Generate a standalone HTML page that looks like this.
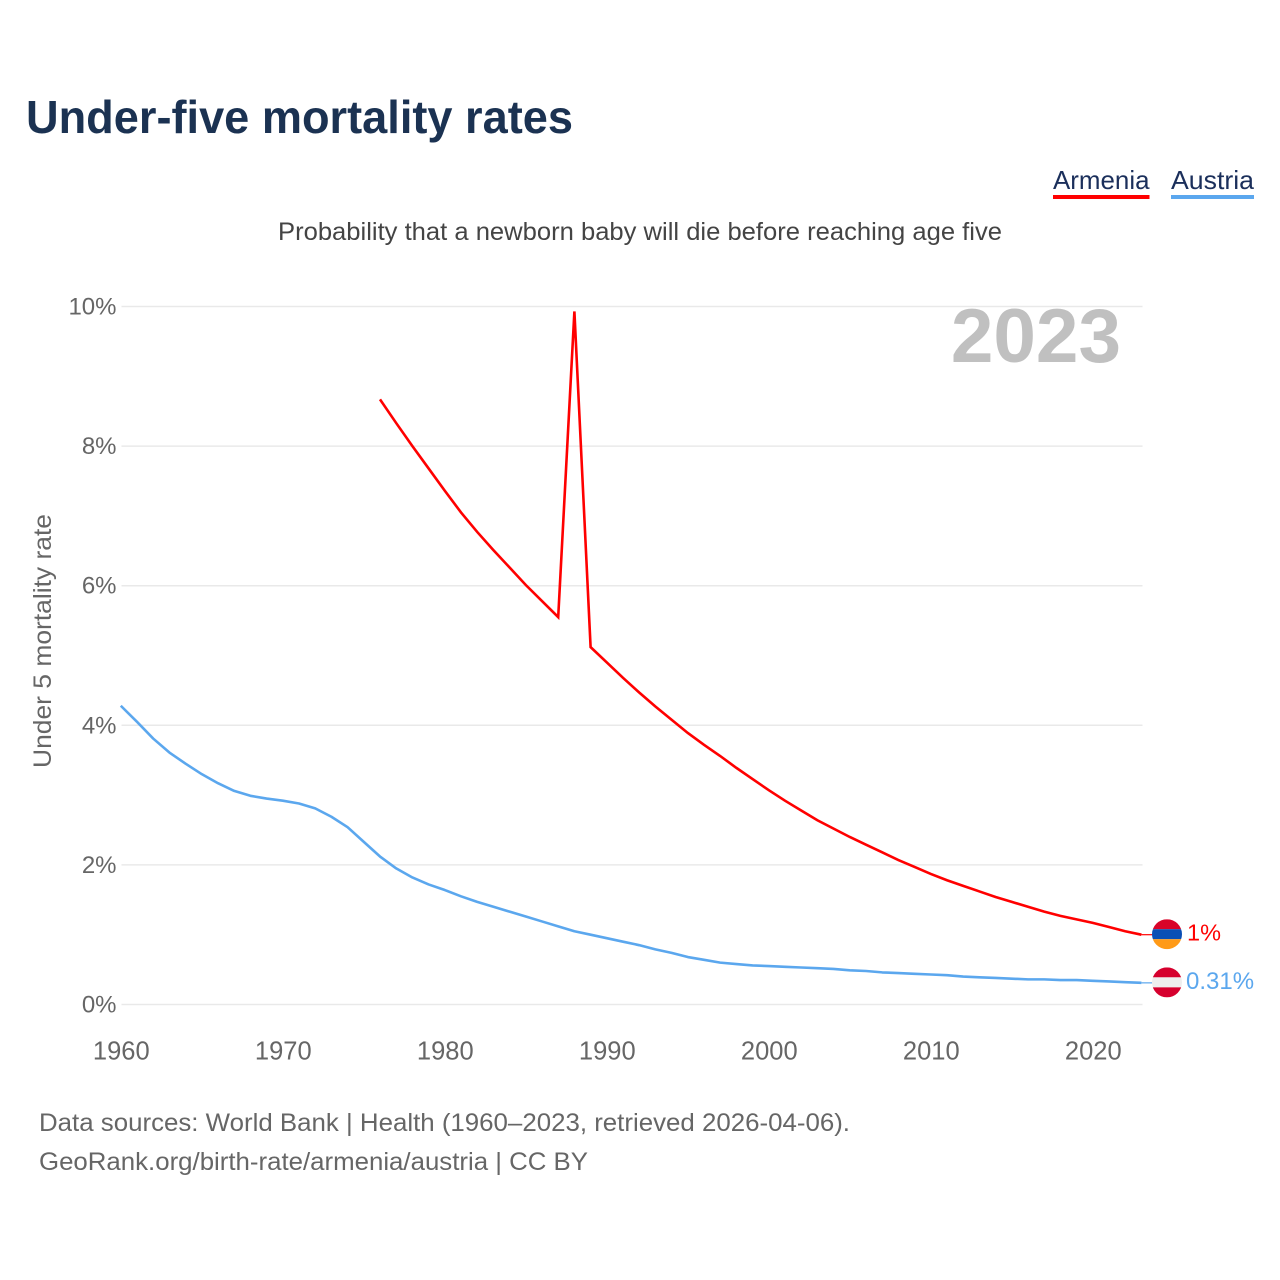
<!DOCTYPE html>
<html lang="en">
<head>
<meta charset="utf-8">
<title>Under-five mortality rates</title>
<style>
html,body{margin:0;padding:0;background:#fff;}
svg{display:block;font-family:"Liberation Sans",sans-serif;}
</style>
</head>
<body>
<svg id="chart" xmlns="http://www.w3.org/2000/svg" width="1280" height="1280" viewBox="0 0 1280 1280">
  <defs>
    <clipPath id="flag-clip"><circle cx="0" cy="0" r="15"/></clipPath>
  </defs>
  <rect width="1280" height="1280" fill="#fff"/>
  <text x="26" y="133" font-size="46" font-weight="bold" fill="#1b3252" textLength="547" lengthAdjust="spacingAndGlyphs">Under-five mortality rates</text>
  <g>
    <text x="1053" y="189" font-size="26" fill="#1b2f5b" textLength="96.5" lengthAdjust="spacingAndGlyphs">Armenia</text>
    <rect x="1053" y="195" width="96.5" height="4" fill="#ff0000"/>
  </g>
  <g>
    <text x="1171" y="189" font-size="26" fill="#1b2f5b" textLength="83" lengthAdjust="spacingAndGlyphs">Austria</text>
    <rect x="1171" y="195" width="83" height="4" fill="#5ba7ee"/>
  </g>
  <text x="278" y="240" font-size="25" fill="#444" textLength="724" lengthAdjust="spacingAndGlyphs">Probability that a newborn baby will die before reaching age five</text>
  <text transform="translate(51,768) rotate(-90)" font-size="25" fill="#666" textLength="254" lengthAdjust="spacingAndGlyphs">Under 5 mortality rate</text>
  <g id="grid"></g>
  <g id="y-ticks"></g>
  <g id="x-ticks"></g>
  <text x="1121" y="362" text-anchor="end" font-size="76.5" font-weight="bold" fill="#c0c0c0">2023</text>
  <path id="line-armenia" fill="none" stroke="#ff0000" stroke-width="2.6" stroke-linejoin="miter"/>
  <path id="line-austria" fill="none" stroke="#5ba7ee" stroke-width="2.6" stroke-linejoin="round"/>
  <line id="connector-armenia" stroke="#ff0000" stroke-width="1.2"/>
  <line id="connector-austria" stroke="#5ba7ee" stroke-width="1.2"/>
  <g id="flag-armenia" clip-path="url(#flag-clip)">
    <rect x="-15" y="-15" width="30" height="10" fill="#d90429"/>
    <rect x="-15" y="-5" width="30" height="10" fill="#0a4fb5"/>
    <rect x="-15" y="5" width="30" height="10" fill="#ff9a17"/>
  </g>
  <g id="flag-austria" clip-path="url(#flag-clip)">
    <rect x="-15" y="-15" width="30" height="10" fill="#d6002e"/>
    <rect x="-15" y="-5" width="30" height="10" fill="#eeeeee"/>
    <rect x="-15" y="5" width="30" height="10" fill="#d6002e"/>
  </g>
  <text id="value-armenia" x="1187" font-size="23.5" fill="#ff0000"></text>
  <text id="value-austria" x="1186" font-size="24" fill="#5ba7ee"></text>
  <text x="39" y="1131" font-size="25" fill="#666" textLength="811" lengthAdjust="spacingAndGlyphs">Data sources: World Bank | Health (1960–2023, retrieved 2026-04-06).</text>
  <text x="39" y="1170" font-size="25" fill="#666" textLength="549" lengthAdjust="spacingAndGlyphs">GeoRank.org/birth-rate/armenia/austria | CC BY</text>
</svg>
<script>
const xTickYears = [1960, 1970, 1980, 1990, 2000, 2010, 2020];
const yTickValues = [0, 2, 4, 6, 8, 10];
const austriaStartYear = 1960;
const austriaValues = [4.28, 4.05, 3.81, 3.61, 3.45, 3.30, 3.17, 3.06, 2.99, 2.95,
  2.92, 2.88, 2.81, 2.69, 2.54, 2.33, 2.12, 1.95, 1.82, 1.72,
  1.64, 1.55, 1.47, 1.40, 1.33, 1.26, 1.19, 1.12, 1.05, 1.00,
  0.95, 0.90, 0.85, 0.79, 0.74, 0.68, 0.64, 0.60, 0.58, 0.56,
  0.55, 0.54, 0.53, 0.52, 0.51, 0.49, 0.48, 0.46, 0.45, 0.44,
  0.43, 0.42, 0.40, 0.39, 0.38, 0.37, 0.36, 0.36, 0.35, 0.35,
  0.34, 0.33, 0.32, 0.31];
const armeniaStartYear = 1976;
const armeniaValues = [8.67, 8.33, 8.00, 7.68, 7.36, 7.05, 6.77, 6.51, 6.26, 6.01,
  5.78, 5.55, 9.93, 5.12, 4.90, 4.68, 4.47, 4.27, 4.08, 3.89,
  3.72, 3.56, 3.39, 3.23, 3.07, 2.92, 2.78, 2.64, 2.52, 2.40,
  2.29, 2.18, 2.07, 1.97, 1.87, 1.78, 1.70, 1.62, 1.54, 1.47,
  1.40, 1.33, 1.27, 1.22, 1.17, 1.11, 1.05, 1.00];

const SVG_NS = 'http://www.w3.org/2000/svg';
const PLOT_LEFT = 121.5, PLOT_RIGHT = 1142.5, Y_ZERO = 1004.5, Y_TEN = 306.5;
const xScale = year => 120.8 + (year - 1960) * 16.2;
const yScale = value => Y_ZERO + value * (Y_TEN - Y_ZERO) / 10;

function linePath(startYear, values) {
  return values.map((v, i) => (i ? 'L' : 'M') + xScale(startYear + i).toFixed(2) + ' ' + yScale(v).toFixed(2)).join(' ');
}

const grid = document.getElementById('grid');
const yTicks = document.getElementById('y-ticks');
const xTicks = document.getElementById('x-ticks');

yTickValues.forEach(v => {
  const gridLine = document.createElementNS(SVG_NS, 'line');
  
  
  gridLine.setAttribute('x1', PLOT_LEFT);
  gridLine.setAttribute('x2', PLOT_RIGHT);
  gridLine.setAttribute('y1', yScale(v));
  gridLine.setAttribute('y2', yScale(v));
  gridLine.setAttribute('stroke', '#e9e9e9');
  gridLine.setAttribute('stroke-width', '1.5');
  grid.appendChild(gridLine);

  const label = document.createElementNS(SVG_NS, 'text');
  
  
  label.setAttribute('x', 116.5);
  label.setAttribute('y', yScale(v) + 8);
  label.setAttribute('text-anchor', 'end');
  label.setAttribute('font-size', '24');
  label.setAttribute('fill', '#666');
  label.textContent = v + '%';
  yTicks.appendChild(label);
});

xTickYears.forEach(year => {
  const label = document.createElementNS(SVG_NS, 'text');
  
  
  label.setAttribute('x', xScale(year) + 0.5);
  label.setAttribute('y', 1059.5);
  label.setAttribute('text-anchor', 'middle');
  label.setAttribute('font-size', '25.5');
  label.setAttribute('fill', '#666');
  label.textContent = year;
  xTicks.appendChild(label);
});

document.getElementById('line-armenia').setAttribute('d', linePath(armeniaStartYear, armeniaValues));
document.getElementById('line-austria').setAttribute('d', linePath(austriaStartYear, austriaValues));

function placeEnd(key, values) {
  const last = values[values.length - 1];
  const y = yScale(last);
  const connector = document.getElementById('connector-' + key);
  connector.setAttribute('x1', xScale(2023));
  connector.setAttribute('x2', 1153);
  connector.setAttribute('y1', y);
  connector.setAttribute('y2', y);
  document.getElementById('flag-' + key).setAttribute('transform', 'translate(1167,' + (y - 0.5) + ')');
  const label = document.getElementById('value-' + key);
  label.setAttribute('y', y + 6);
  label.textContent = last + '%';
}
placeEnd('armenia', armeniaValues);
placeEnd('austria', austriaValues);
</script>
</body>
</html>
